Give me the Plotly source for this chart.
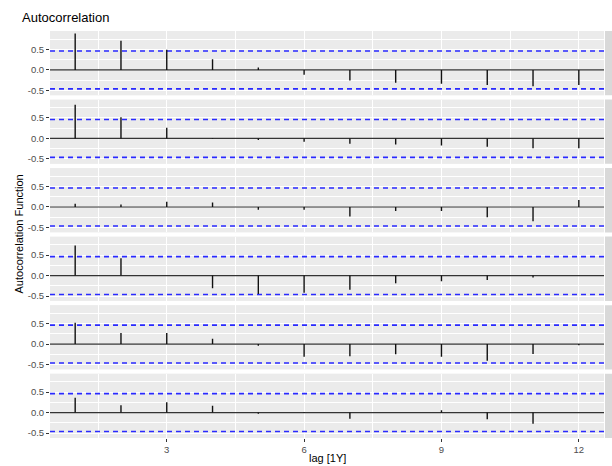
import plotly.graph_objects as go
from plotly.subplots import make_subplots

LAGS = list(range(1, 13))
ACF_1 = [0.89, 0.71, 0.49, 0.26, 0.06, -0.12, -0.26, -0.31, -0.34, -0.37, -0.40, -0.37]
ACF_2 = [0.82, 0.52, 0.26, 0.01, -0.04, -0.08, -0.13, -0.15, -0.17, -0.20, -0.24, -0.24]
ACF_3 = [0.08, 0.06, 0.13, 0.11, -0.07, -0.07, -0.23, -0.10, -0.10, -0.25, -0.35, 0.17]
ACF_4 = [0.73, 0.42, 0.00, -0.31, -0.45, -0.42, -0.35, -0.19, -0.14, -0.11, -0.05, 0.00]
ACF_5 = [0.52, 0.27, 0.27, 0.13, -0.04, -0.31, -0.30, -0.25, -0.31, -0.41, -0.24, -0.03]
ACF_6 = [0.36, 0.18, 0.25, 0.17, -0.03, -0.01, -0.15, 0.00, 0.06, -0.16, -0.27, 0.00]
SERIES = [ACF_1, ACF_2, ACF_3, ACF_4, ACF_5, ACF_6]
CI = 0.462
X_TICKS = [3, 6, 9, 12]
X_TICK_LABELS = ["3", "6", "9", "12"]
Y_TICKS = [-0.5, 0.0, 0.5]
Y_TICK_LABELS = ["-0.5", "0.0", "0.5"]

W, H = 612, 466
ML, MR, MT, MB = 50, 8, 31, 28
plot_h = H - MT - MB
n = len(SERIES)

fig = make_subplots(rows=n, cols=1, shared_xaxes=True, vertical_spacing=4.2 / plot_h)

XR = [0.45, 12.55]
YR = [-0.62, 0.95]
FONT = "Liberation Sans, Arial, sans-serif"

for i, vals in enumerate(SERIES):
    r = i + 1
    # CI lines
    for c in (CI, -CI):
        fig.add_trace(go.Scatter(x=XR, y=[c, c], mode="lines",
                                 line=dict(color="#2a2aff", width=1.6, dash="5px,4px"),
                                 hoverinfo="skip", showlegend=False), row=r, col=1)
    # zero line
    fig.add_trace(go.Scatter(x=XR, y=[0, 0], mode="lines",
                             line=dict(color="#333333", width=1.2),
                             hoverinfo="skip", showlegend=False), row=r, col=1)
    # segments
    xs, ys = [], []
    for lag, v in zip(LAGS, vals):
        xs += [lag, lag, None]
        ys += [0, v, None]
    fig.add_trace(go.Scatter(x=xs, y=ys, mode="lines",
                             line=dict(color="#111111", width=1.4),
                             hoverinfo="skip", showlegend=False), row=r, col=1)
    fig.update_yaxes(row=r, col=1, range=YR, tickvals=Y_TICKS, ticktext=Y_TICK_LABELS,
                     showgrid=True, gridcolor="white", gridwidth=1.1,
                     minor=dict(tickvals=[-0.25, 0.25, 0.75], showgrid=True,
                                gridcolor="white", gridwidth=0.5, ticks=""),
                     zeroline=False, ticks="outside", ticklen=3, tickcolor="#333333",
                     tickwidth=1, tickfont=dict(size=9.5, color="#4d4d4d", family=FONT),
                     showline=False, fixedrange=True)
    fig.update_xaxes(row=r, col=1, range=XR, tickvals=X_TICKS, ticktext=X_TICK_LABELS,
                     showgrid=True, gridcolor="white", gridwidth=1.1,
                     minor=dict(tickvals=[1.5, 4.5, 7.5, 10.5], showgrid=True,
                                gridcolor="white", gridwidth=0.5, ticks=""),
                     zeroline=False, showline=False, fixedrange=True,
                     ticks="outside" if r == n else "", ticklen=3, tickcolor="#333333",
                     showticklabels=(r == n),
                     tickfont=dict(size=9.5, color="#4d4d4d", family=FONT))

# strips on the right (cut off by the page edge)
for i in range(n):
    yname = "y domain" if i == 0 else f"y{i+1} domain"
    fig.add_shape(type="rect", xref="paper", yref=yname,
                  x0=(605 - ML) / (W - ML - MR), x1=1.05, y0=0, y1=1,
                  fillcolor="#d9d9d9", line=dict(width=0), layer="below")

fig.update_layout(
    width=W, height=H,
    margin=dict(l=ML, r=MR, t=MT, b=MB),
    paper_bgcolor="white", plot_bgcolor="#ebebeb",
    font=dict(family=FONT, color="#000000"),
    showlegend=False,
    title=dict(text="Autocorrelation", x=22 / W, xanchor="left", xref="container",
               y=1 - 17 / H, yanchor="middle", yref="container",
               font=dict(size=13, color="#000000", family=FONT)),
)
fig.add_annotation(text="Autocorrelation Function", xref="paper", yref="paper",
                   x=(18 - ML) / (W - ML - MR), y=0.5, textangle=-90,
                   showarrow=False, xanchor="center", yanchor="middle",
                   font=dict(size=11, color="#000000", family=FONT))
fig.add_annotation(text="lag [1Y]", xref="paper", yref="paper",
                   x=0.5, y=-(458 - (H - MB)) / plot_h, showarrow=False,
                   xanchor="center", yanchor="middle",
                   font=dict(size=11, color="#000000", family=FONT))

fig.write_html("out.html", config={"displayModeBar": False},
               post_script="document.body.style.margin='0';document.body.style.padding='0';"
                           "document.documentElement.style.overflow='hidden';")
